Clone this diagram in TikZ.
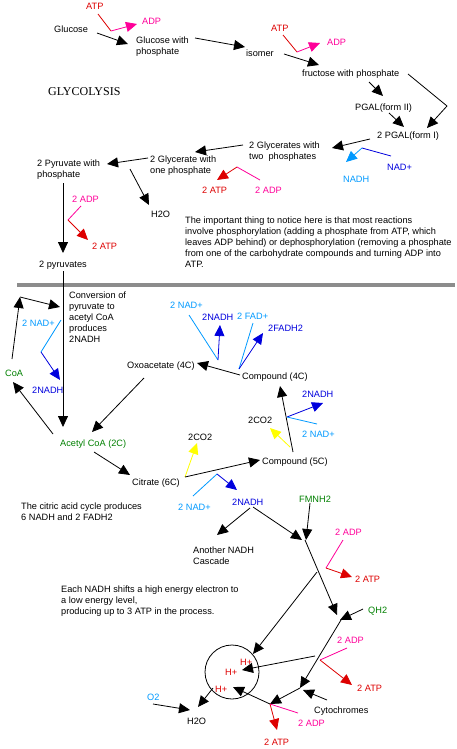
\documentclass[tikz,border=0pt]{standalone}
\usepackage{fontspec}
\setmainfont{Liberation Sans}
\newfontfamily\serifglyc{Liberation Serif}
\usetikzlibrary{arrows.meta}
\definecolor{cred}{RGB}{221,0,0}
\definecolor{cmag}{RGB}{255,0,153}
\definecolor{cdblue}{RGB}{0,0,221}
\definecolor{clblue}{RGB}{0,153,255}
\definecolor{cgreen}{RGB}{0,128,0}
\definecolor{cyel}{RGB}{255,255,0}
\newcommand\lab{\fontsize{9.2}{11}\selectfont}
\tikzset{
  txt/.style={inner sep=0pt, anchor=base west, font=\lab},
  para/.style={inner sep=0pt, anchor=north west, align=left, font=\lab},
  ln/.style={line width=0.8pt},
  ar/.style={line width=0.8pt, -{Triangle[length=11pt,width=10pt]}},
}
\begin{document}
\begin{tikzpicture}[x=1pt,y=-1pt]
\useasboundingbox (0,0) rectangle (457,749);

% ---------------- Glycolysis texts ----------------
\node[txt,cred] (atpA) at (86,9.5) {ATP};
\node[txt,cmag] (adpA) at (142,25) {ADP};
\node[txt] (glucose) at (54,32.5) {Glucose};
\node[para] (glucp) at (136,37) {Glucose with\\phosphate};
\node[txt] (isomer) at (246,57) {isomer};
\node[txt,cred] (atpB) at (271,32) {ATP};
\node[txt,cmag] (adpB) at (327,46) {ADP};
\node[txt] (fruct) at (302,77) {fructose with phosphate};
\node[txt] (pgal2) at (355,110.5) {PGAL(form II)};
\node[txt] (pgal1) at (377,139) {2 PGAL(form I)};
\node[para] (glyc2) at (249,142) {2 Glycerates with\\two\ \ phosphates};
\node[para] (glyc1) at (150,155.5) {2 Glycerate with\\one phosphate};
\node[para] (pyrp) at (37,159.5) {2 Pyruvate with\\phosphate};
\node[txt] (h2oA) at (151,217) {H2O};
\node[txt,cmag] (adpC) at (72,202) {2 ADP};
\node[txt,cred] (atpC) at (92,249) {2 ATP};
\node[txt] (pyr) at (39,267.5) {2 pyruvates};
\node[txt,cred] (atpD) at (202,193) {2 ATP};
\node[txt,cmag] (adpD) at (255,193) {2 ADP};
\node[txt,cdblue] (nadA) at (387,170) {NAD+};
\node[txt,clblue] (nadhA) at (343,182) {NADH};
\node[inner sep=0pt, anchor=base west, font=\serifglyc\fontsize{12}{14}\selectfont] (title) at (48,96) {GLYCOLYSIS};
\node[para] (note) at (185,216.5) {The important thing to notice here is that most reactions\\involve phosphorylation (adding a phosphate from ATP, which\\leaves ADP behind) or dephosphorylation (removing a phosphate\\from one of the carbohydrate compounds and turning ADP into\\ATP.};

% ---------------- Glycolysis connectors ----------------
\coordinate (a1) at (98,14);   \coordinate (a2) at (111,31);  \coordinate (a3) at (137,24);
\draw[ln,cred] (a1) -- (a2);
\draw[ar,cmag] (a2) -- (a3);
\coordinate (g1) at (97,33);   \coordinate (g2) at (128,44);
\draw[ar] (g1) -- (g2);
\coordinate (g3) at (195,38);  \coordinate (g4) at (245,47);
\draw[ar] (g3) -- (g4);
\coordinate (b1) at (283,35);  \coordinate (b2) at (297,52);  \coordinate (b3) at (320,43);
\draw[ln,cred] (b1) -- (b2);
\draw[ar,cmag] (b2) -- (b3);
\coordinate (i1) at (284,54);  \coordinate (i2) at (319,65);
\draw[ar] (i1) -- (i2);
\coordinate (f1) at (369,82);  \coordinate (f2) at (383,96);
\draw[ar] (f1) -- (f2);
\coordinate (p1) at (389,113); \coordinate (p2) at (404,127);
\draw[ar] (p1) -- (p2);
\coordinate (f3) at (408,74);  \coordinate (f4) at (447,106); \coordinate (f5) at (427,128);
\draw[ln] (f3) -- (f4);
\draw[ar] (f4) -- (f5);
\coordinate (q1) at (370,139); \coordinate (q2) at (332,148);
\draw[ar] (q1) -- (q2);
\coordinate (q3) at (243,145); \coordinate (q4) at (195,152);
\draw[ar] (q3) -- (q4);
\coordinate (q5) at (148,158); \coordinate (q6) at (107,164);
\draw[ar] (q5) -- (q6);
\coordinate (w1) at (130,169); \coordinate (w2) at (149,205);
\draw[ar] (w1) -- (w2);
\coordinate (d1) at (63,183);  \coordinate (d2) at (63,253);
\draw[ar] (d1) -- (d2);
\coordinate (c1) at (81,206);  \coordinate (c2) at (68,220);  \coordinate (c3) at (88,240);
\draw[ln,cmag] (c1) -- (c2);
\draw[ar,cred] (c2) -- (c3);
\coordinate (e1) at (260,180); \coordinate (e2) at (237,167); \coordinate (e3) at (217,180);
\draw[ln,cmag] (e1) -- (e2);
\draw[ar,cred] (e2) -- (e3);
\coordinate (n1) at (391,156); \coordinate (n2) at (362,148); \coordinate (n3) at (346,162);
\draw[ln,cdblue] (n1) -- (n2);
\draw[ar,clblue] (n2) -- (n3);

% ---------------- separator ----------------
\fill[black!45] (17,283) rectangle (455,287);

% ---------------- Krebs cycle texts ----------------
\node[para] (conv) at (69,292) {Conversion of\\pyruvate to\\acetyl CoA\\produces\\2NADH};
\node[txt,clblue] (nadB) at (22,326) {2 NAD+};
\node[txt,cdblue] (nadhB) at (32,393) {2NADH};
\node[txt,cgreen] (coa) at (5,376) {CoA};
\node[txt,cgreen] (acoa) at (60,446.5) {Acetyl CoA (2C)};
\node[txt] (oxo) at (127,368) {Oxoacetate (4C)};
\node[txt,clblue] (nadC) at (170,308) {2 NAD+};
\node[txt,cdblue] (nadhC) at (202,320) {2NADH};
\node[txt,clblue] (fad) at (237,319) {2 FAD+};
\node[txt,cdblue] (fadh) at (268,331) {2FADH2};
\node[txt] (comp4) at (242,379) {Compound (4C)};
\node[txt,cdblue] (nadhD) at (302,397) {2NADH};
\node[txt,clblue] (nadD) at (302,437) {2 NAD+};
\node[txt] (co2A) at (248,423) {2CO2};
\node[txt] (co2B) at (188,440) {2CO2};
\node[txt] (comp5) at (262,464) {Compound (5C)};
\node[txt] (citr) at (132,485.5) {Citrate (6C)};
\node[txt,clblue] (nadE) at (178,510) {2 NAD+};
\node[txt,cdblue] (nadhE) at (232,505) {2NADH};
\node[txt,cgreen] (fmn) at (299,502) {FMNH2};
\node[para] (another) at (193,546.5) {Another NADH\\Cascade};
\node[para] (citnote) at (21,502.5) {The citric acid cycle produces\\6 NADH and 2 FADH2};
\node[txt,cmag] (adpE) at (335,535) {2 ADP};
\node[txt,cred] (atpE) at (355,582) {2 ATP};
\node[para] (eachnote) at (61,585.5) {Each NADH shifts a high energy electron to\\a low energy level,\\producing up to 3 ATP in the process.};
\node[txt,cgreen] (qh2) at (368,613) {QH2};
\node[txt,cmag] (adpF) at (337,643) {2 ADP};
\node[txt,cred] (atpF) at (357,691) {2 ATP};
\node[txt,cred] (hpA) at (240,665) {H+};
\node[txt,cred] (hpB) at (225,675.5) {H+};
\node[txt,cred] (hpC) at (215,692) {H+};
\node[txt,clblue] (o2) at (147,700.5) {O2};
\node[txt] (h2oB) at (187,724) {H2O};
\node[txt] (cyto) at (314,713) {Cytochromes};
\node[txt,cmag] (adpG) at (298,726) {2 ADP};
\node[txt,cred] (atpG) at (264,745) {2 ATP};

% ---------------- Krebs cycle connectors ----------------
\coordinate (k1) at (63,271);  \coordinate (k2) at (63,427);
\draw[ar] (k1) -- (k2);
\coordinate (k3) at (12,359);  \coordinate (k4) at (20,297);  \coordinate (k5) at (60,307);
\draw[ar] (k3) -- (k4);
\draw[ar] (k4) -- (k5);
\coordinate (k6) at (61,320);  \coordinate (k7) at (41,352);  \coordinate (k8) at (60,380);
\draw[ln,clblue] (k6) -- (k7);
\draw[ar,cdblue] (k7) -- (k8);
\coordinate (k9) at (53,434);  \coordinate (k10) at (13,382);
\draw[ar] (k9) -- (k10);
\coordinate (k11) at (144,378); \coordinate (k12) at (92,432);
\draw[ar] (k11) -- (k12);
\coordinate (k13) at (240,375); \coordinate (k14) at (197,363);
\draw[ar] (k13) -- (k14);
\coordinate (k15) at (189,315); \coordinate (k16) at (218,360); \coordinate (k17) at (220,325);
\draw[ln,clblue] (k15) -- (k16);
\draw[ar,cdblue] (k16) -- (k17);
\coordinate (k18) at (253,323); \coordinate (k19) at (239,369); \coordinate (k20) at (263,333);
\draw[ln,clblue] (k18) -- (k19);
\draw[ar,cdblue] (k19) -- (k20);
\coordinate (k21) at (293,452); \coordinate (k22) at (280,386);
\draw[ar] (k21) -- (k22);
\coordinate (k23) at (287,417); \coordinate (k24) at (323,403); \coordinate (k25) at (317,424);
\draw[ar,cdblue] (k23) -- (k24);
\draw[ln,clblue] (k23) -- (k25);
\coordinate (k26) at (290,447); \coordinate (k27) at (270,428);
\draw[ar,cyel] (k26) -- (k27);
\coordinate (k28) at (185,477); \coordinate (k29) at (197,443); \coordinate (k30) at (260,460);
\draw[ar,cyel] (k28) -- (k29);
\draw[ar] (k28) -- (k30);
\coordinate (k31) at (94,452);  \coordinate (k32) at (130,475);
\draw[ar] (k31) -- (k32);
\coordinate (k33) at (193,496); \coordinate (k34) at (217,474); \coordinate (k35) at (237,490);
\draw[ln,clblue] (k33) -- (k34);
\draw[ar,cdblue] (k34) -- (k35);

% ---------------- electron transport ----------------
\coordinate (t1) at (250,508); \coordinate (t2) at (217,535);
\draw[ar] (t1) -- (t2);
\coordinate (t3) at (253,507); \coordinate (t4) at (302,540);
\draw[ar] (t3) -- (t4);
\coordinate (t5) at (310,503); \coordinate (t6) at (306,540);
\draw[ar] (t5) -- (t6);
\coordinate (t7) at (343,540); \coordinate (t8) at (326,568); \coordinate (t9) at (352,577);
\draw[ln,cmag] (t7) -- (t8);
\draw[ar,cred] (t8) -- (t9);
\coordinate (t10) at (305,540); \coordinate (t11) at (337,615);
\draw[ar] (t10) -- (t11);
\coordinate (t12) at (363,609); \coordinate (t13) at (340,620);
\draw[ar] (t12) -- (t13);
\coordinate (t14) at (341,620); \coordinate (t15) at (300,688);
\draw[ar] (t14) -- (t15);
\coordinate (t16) at (347,648); \coordinate (t17) at (320,660); \coordinate (t18) at (352,685);
\draw[ln,cmag] (t16) -- (t17);
\draw[ar,cred] (t17) -- (t18);
\coordinate (t19) at (315,656); \coordinate (t20) at (242,670);
\draw[ar] (t19) -- (t20);
\coordinate (t21) at (317,572); \coordinate (t22) at (253,654);
\draw[ar] (t21) -- (t22);
\node[draw, line width=0.8pt, circle, minimum size=54pt, inner sep=0pt] (hcirc) at (232,672) {};
\coordinate (t23) at (327,700); \coordinate (t24) at (303,690);
\draw[ar] (t23) -- (t24);
\coordinate (t25) at (300,688); \coordinate (t26) at (270,704);
\draw[ar] (t25) -- (t26);
\coordinate (t27) at (233,687);
\draw[ar] (t26) -- (t27);
\coordinate (t28) at (298,713); \coordinate (t29) at (277,730);
\draw[ln,cmag] (t26) -- (t28);
\draw[ar,cred] (t26) -- (t29);
\coordinate (t30) at (213,688); \coordinate (t31) at (198,707);
\draw[ar] (t30) -- (t31);
\coordinate (t32) at (153,704); \coordinate (t33) at (190,710);
\draw[ar] (t32) -- (t33);
\end{tikzpicture}
\end{document}
